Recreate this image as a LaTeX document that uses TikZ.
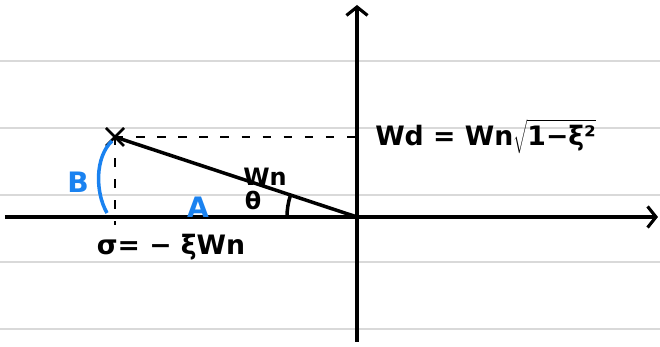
\documentclass[tikz,border=0pt]{standalone}
\usepackage{fontspec}
\setmainfont{DejaVu Sans}
\usetikzlibrary{arrows.meta,shapes.misc,calc}
\definecolor{ruleline}{HTML}{D9D9D9}
\definecolor{penblue}{HTML}{1A82F0}
\tikzset{
  axis/.style={line width=2.5pt, -{Straight Barb[length=6pt,width=15pt,line width=2.2pt]}},
  ink/.style={line width=2.5pt},
  guide/.style={line width=1.8pt, dash pattern=on 6pt off 9pt},
  ruled/.style={draw=ruleline, line width=1.2pt},
  hand/.style={font=\bfseries\fontsize{19}{21}\selectfont, inner sep=0pt},
  bluehand/.style={hand, text=penblue, font=\bfseries\fontsize{20}{22}\selectfont},
}

\begin{document}
\begin{tikzpicture}[x=0.025cm, y=0.025cm]
  \useasboundingbox (-357,-130) rectangle (303,217);
  \foreach \y in {156,89,22,-45,-112} \draw[ruled] (-357,\y) -- (303,\y);
  \coordinate (O) at (0,0);
  \coordinate (P) at (-242,80);
  \coordinate (Pd) at (0,80);
  \coordinate (Px) at (-242,-8);
  \coordinate (xl) at (-352,0);
  \coordinate (xr) at (301,0);
  \coordinate (yb) at (0,-125);
  \coordinate (yt) at (0,212);
  \draw[axis] (xl) -- (xr);
  \draw[axis] (yb) -- (yt);
  \draw[guide] (P) -- (Pd);
  \draw[guide] (P) -- (Px);
  \draw[ink] (P) -- (O);
  \node[cross out, draw, line width=1.8pt, minimum size=11pt, inner sep=0pt] (pole) at (P) {};
  \draw[ink] ([shift={(180:70)}]O) arc[start angle=180, end angle=161.7, radius=70];
  \draw[ink, penblue] ($(P)+(-3,-4)$) .. controls (-262,60) and (-262,25) .. (-250,4);
  \node[hand, anchor=west] (wd) at (18,80) {Wd = Wn$\sqrt{\vphantom{Ag}\mbox{1−ξ²}}$};
  \node[hand] (sigma) at (-186,-30) {σ= − ξWn};
  \node[hand, font=\bfseries\fontsize{17}{19}\selectfont] (wn) at (-92,40) {Wn};
  \node[hand, font=\bfseries\fontsize{17}{19}\selectfont] (theta) at (-104,17) {θ};
  \node[bluehand] (la) at (-159,10) {A};
  \node[bluehand] (lb) at (-279,35) {B};
\end{tikzpicture}
\end{document}
